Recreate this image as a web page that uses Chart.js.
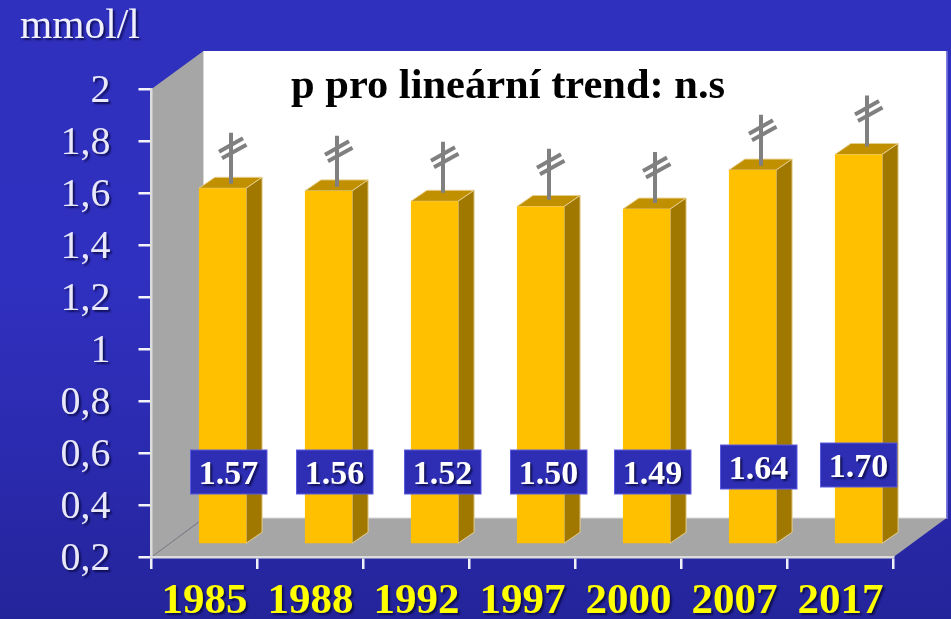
<!DOCTYPE html>
<html><head><meta charset="utf-8">
<script src="https://cdn.jsdelivr.net/npm/chart.js@4"></script>
<style>
html,body{margin:0;padding:0;width:951px;height:619px;overflow:hidden;
background:linear-gradient(180deg,#3030BE 0%,#3030C0 45%,#2A2AAE 75%,#24249A 100%);}
canvas{display:block}
</style></head><body>
<canvas id="c" width="951" height="619"></canvas>
<script>
const years = ['1985','1988','1992','1997','2000','2007','2017'];
const values = [1.57,1.56,1.52,1.50,1.49,1.64,1.70];
const valueLabels = ['1.57','1.56','1.52','1.50','1.49','1.64','1.70'];
const whiskerTops = [1.784,1.772,1.749,1.722,1.710,1.853,1.927];
const yTickLabels = ['0,2','0,4','0,6','0,8','1','1,2','1,4','1,6','1,8','2'];
const unitText = 'mmol/l';
const noteText = 'p pro lineární trend: n.s';

// layout only
const SERIF = '"Liberation Serif", serif';
const FRONT = {dx:18, dy:-12.5};
const BACK = {dx:52, dyTop:-38, dyBottom:-39};
const labelShiftX = [6,6,8,8,6,6,0];
const labelCenterY = [472,472,472,472,472,467,465];

function poly(ctx, pts, fill, stroke){
  ctx.beginPath();
  pts.forEach((p,i)=> i?ctx.lineTo(p[0],p[1]):ctx.moveTo(p[0],p[1]));
  ctx.closePath();
  ctx.fillStyle = fill; ctx.fill();
  if(stroke){ctx.strokeStyle = stroke; ctx.lineWidth = 1; ctx.stroke();}
}
function softShadow(ctx){
  ctx.shadowColor='rgba(0,0,40,.65)'; ctx.shadowBlur=2; ctx.shadowOffsetX=2; ctx.shadowOffsetY=2;
}
const scene = {
  id:'scene',
  beforeDraw(chart){
    const {ctx, chartArea:a} = chart;
    ['x','y'].forEach(k=>{
      const s = chart.scales[k];
      if(!s._shadowed){
        const orig = s.drawLabels;
        s.drawLabels = function(area){
          ctx.save(); softShadow(ctx);
          if(k==='y') ctx.translate(-1,2);
          orig.call(s,area); ctx.restore();
        };
        s._shadowed = true;
      }
    });
    const bx = a.left+BACK.dx, by = a.bottom+BACK.dyBottom, tx = a.top+BACK.dyTop;
    const rx = a.right+BACK.dx+1;
    poly(ctx, [[bx,tx],[rx,tx],[rx,by],[bx,by]], '#FFFFFF');
    ctx.fillStyle='#6464DC'; ctx.fillRect(rx,tx,1.5,by-tx+1);
    poly(ctx, [[a.left,a.top],[bx,tx],[bx,by],[a.left,a.bottom]], '#A6A6A6');
    poly(ctx, [[a.left,a.bottom],[bx,by],[rx,by],[a.right,a.bottom]], '#A6A6A6');
    ctx.strokeStyle='#D8D8D8'; ctx.lineWidth=1;
    ctx.beginPath(); ctx.moveTo(bx,tx); ctx.lineTo(bx,by); ctx.lineTo(rx,by); ctx.stroke();
    ctx.strokeStyle='#808080';
    ctx.beginPath(); ctx.moveTo(a.left,a.bottom); ctx.lineTo(a.left+FRONT.dx*2.6,a.bottom+FRONT.dy*2.75); ctx.stroke();
    ctx.fillStyle='#F0F0FF';
    ctx.font='41.5px '+SERIF; ctx.textAlign='left'; ctx.textBaseline='alphabetic';
    ctx.save(); softShadow(ctx); ctx.fillText(unitText,20,38); ctx.restore();
  },
  beforeDatasetDraw(chart){
    const ctx = chart.ctx;
    chart.getDatasetMeta(0).data.forEach(el=>{
      const l = el.x-el.width/2+FRONT.dx, r = el.x+el.width/2+FRONT.dx;
      const t = el.y+FRONT.dy, b = el.base+FRONT.dy;
      poly(ctx, [[l,t],[l+16,t-11],[r+16,t-11],[r,t]], '#C09000','#E6CE8C');
      poly(ctx, [[r,t],[r+16,t-11],[r+16,b-11],[r,b]], '#A07800','#E6CE8C');
    });
    ctx.save();
    ctx.translate(FRONT.dx, FRONT.dy);
  },
  afterDatasetDraw(chart){
    const ctx = chart.ctx; ctx.restore();
    const yS = chart.scales.y;
    chart.getDatasetMeta(0).data.forEach((el,i)=>{
      const cx = el.x+FRONT.dx, sx = cx+8.5;
      const top = yS.getPixelForValue(whiskerTops[i])+FRONT.dy;
      const bot = top+51;
      ctx.strokeStyle='#808080'; ctx.lineWidth=4;
      ctx.beginPath();
      ctx.moveTo(sx,top); ctx.lineTo(sx,bot);
      ctx.moveTo(sx-12,top+19); ctx.lineTo(sx+12,top+5.5);
      ctx.moveTo(sx-9,top+25.5); ctx.lineTo(sx+15.5,top+12);
      ctx.stroke();
    });
    chart.getDatasetMeta(0).data.forEach((el,i)=>{
      const cx = el.x+FRONT.dx+labelShiftX[i], cy = labelCenterY[i];
      ctx.fillStyle='#2E2EB4'; ctx.fillRect(cx-38,cy-22,76.5,44);
      ctx.strokeStyle='#5A5AE0'; ctx.lineWidth=1; ctx.strokeRect(cx-38,cy-22,76.5,44);
      ctx.save(); softShadow(ctx);
      ctx.fillStyle='#FFFFFF'; ctx.font='bold 34px '+SERIF; ctx.textAlign='center'; ctx.textBaseline='alphabetic';
      ctx.fillText(valueLabels[i],cx,cy+11.5); ctx.restore();
    });
  },
  afterDraw(chart){
    const ctx = chart.ctx;
    ctx.fillStyle='#000'; ctx.font='bold 42.5px '+SERIF; ctx.textAlign='left'; ctx.textBaseline='alphabetic';
    ctx.fillText(noteText,291,98);
  }
};
new Chart(document.getElementById('c'),{
  type:'bar',
  plugins:[scene],
  data:{labels:years,datasets:[{data:values,base:0.2,backgroundColor:'#FFC000',borderWidth:0,barPercentage:1,categoryPercentage:0.445,clip:false}]},
  options:{
    responsive:false,animation:false,
    layout:{autoPadding:false,padding:{top:89,right:57.5,left:0,bottom:0}},
    plugins:{legend:{display:false},tooltip:{enabled:false},title:{display:false}},
    scales:{
      x:{
        afterFit(s){s.height=62;},
        grid:{drawOnChartArea:false,drawTicks:true,tickLength:12,color:'#F0F0F8',lineWidth:2.5},
        border:{color:'#DCDCDC',width:2.5},
        ticks:{autoSkip:false,maxRotation:0,minRotation:0,color:'#FFFF00',padding:7,font:{family:SERIF,size:43,weight:'bold'}}
      },
      y:{
        min:0.2,max:2,
        afterFit(s){s.width=151.5;},
        grid:{drawOnChartArea:false,drawTicks:true,tickLength:13,color:'#F4F4FC',lineWidth:2.5},
        border:{color:'#DCDCDC',width:2.5},
        ticks:{stepSize:0.2,color:'#E8E8FA',padding:27,font:{family:SERIF,size:40},
          callback(v,i){return yTickLabels[i];}}
      }
    }
  }
});
</script></body></html>
